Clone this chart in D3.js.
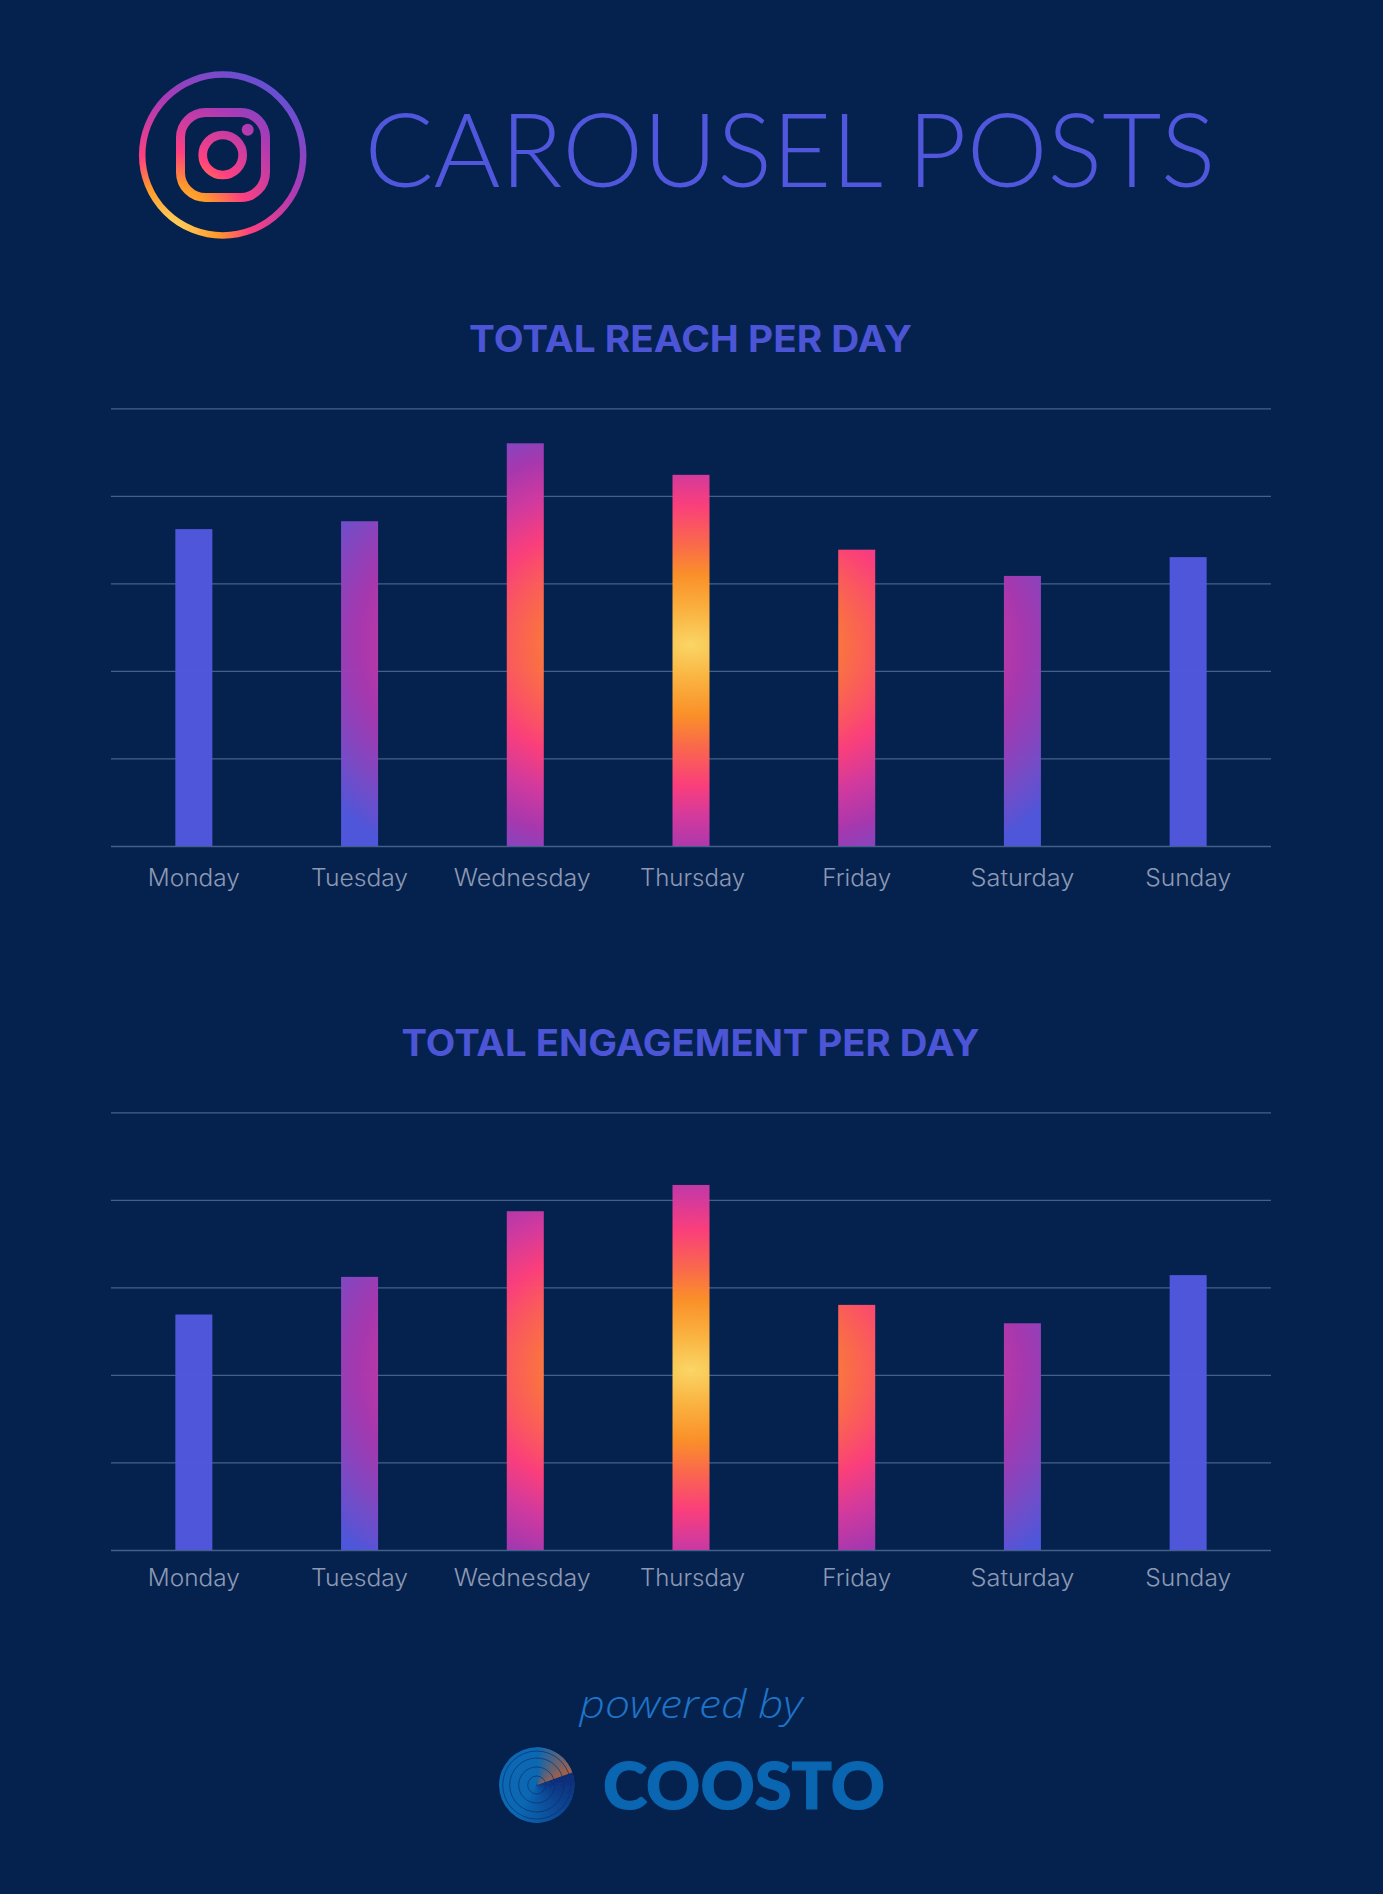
<!DOCTYPE html>
<html>
<head>
<meta charset="utf-8">
<script src="https://cdn.jsdelivr.net/npm/d3@7"></script>
<style>
html,body{margin:0;padding:0;background:#05224f;}
svg{display:block;}
</style>
</head>
<body>
<svg id="c" width="1383" height="1894"></svg>
<script>
const days = ["Monday","Tuesday","Wednesday","Thursday","Friday","Saturday","Sunday"];
const reachValues = [36.2,37.1,46.0,42.4,33.85,30.85,33.0];
const engagementValues = [26.9,31.2,38.7,41.7,28.0,25.9,31.4];
const gridTicks = [0,10,20,30,40,50];
const titleText = "CAROUSEL POSTS";
const reachTitle = "TOTAL REACH PER DAY";
const engagementTitle = "TOTAL ENGAGEMENT PER DAY";
const poweredText = "powered by";
const brandText = "COOSTO";

const BG = "#05224f", INDIGO = "#5057dc", HEAD = "#4c55d6";
const labelFit = {Monday:[92,0],Tuesday:[97,0],Wednesday:[137,-3],Thursday:[105,1.5],Friday:[69,0],Saturday:[104,0],Sunday:[86,0]};
const svg = d3.select("#c");
svg.append("rect").attr("width",1383).attr("height",1894).attr("fill",BG);
const defs = svg.append("defs");

const barStops = [[0,"#ffd966"],[.12,"#ffb640"],[.25,"#ff9228"],[.36,"#ff6b4a"],[.5,"#ff3f7c"],[.62,"#d43aa0"],[.74,"#aa38b0"],[.87,"#7a4cc8"],[.98,"#5057dc"],[1,"#5057dc"]];
function barGradient(id, cx, cy){
  const g = defs.append("radialGradient").attr("id",id)
    .attr("gradientUnits","userSpaceOnUse")
    .attr("cx",0).attr("cy",0).attr("r",280)
    .attr("gradientTransform",`translate(${cx},${cy}) scale(1.6,1)`);
  barStops.forEach(s=>g.append("stop").attr("offset",s[0]).attr("stop-color",s[1]));
}

function chart(opts){
  const x = d3.scaleBand().domain(days).range([111,1271]).padding(0);
  const y = d3.scaleLinear().domain([0,50]).range([opts.bottom,opts.top]);
  const g = svg.append("g");
  g.append("text").text(opts.title)
    .attr("x",690.5).attr("y",opts.titleY).attr("text-anchor","middle")
    .attr("font-family","Inter, 'Noto Sans', sans-serif").attr("font-weight",700)
    .attr("font-size",37).attr("fill",HEAD)
    .attr("textLength",opts.titleW).attr("lengthAdjust","spacingAndGlyphs");

  const grid = g.append("g").attr("transform","translate(111,0)")
    .call(d3.axisLeft(y).tickValues(gridTicks).tickSize(-1160).tickFormat(""));
  grid.select(".domain").remove();
  grid.selectAll(".tick line").attr("stroke","#44608a").attr("stroke-width",1.3);

  barGradient(opts.id, x("Thursday")+x.bandwidth()/2, opts.centerY);
  const barW = 37;
  g.selectAll("rect.bar").data(days).join("rect").attr("class","bar")
    .attr("x",d=>x(d)+x.bandwidth()/2-barW/2)
    .attr("width",barW)
    .attr("y",(d,i)=>y(opts.values[i]))
    .attr("height",(d,i)=>y(0)-y(opts.values[i]))
    .attr("fill",`url(#${opts.id})`).attr("fill-opacity",.98);

  const ax = g.append("g").attr("transform",`translate(0,${opts.bottom})`)
    .call(d3.axisBottom(x).tickSize(0).tickPadding(opts.pad));
  ax.select(".domain").remove();
  ax.selectAll(".tick text")
    .attr("font-family","Inter, 'Noto Sans', sans-serif").attr("font-weight",300)
    .attr("font-size",23.5).attr("fill","#8d99b3")
    .attr("dx",d=>labelFit[d][1])
    .attr("textLength",d=>labelFit[d][0]).attr("lengthAdjust","spacingAndGlyphs");
}

chart({id:"g1",title:reachTitle,titleY:352,titleW:443,top:408.3,bottom:846,centerY:645,values:reachValues,pad:23});
chart({id:"g2",title:engagementTitle,titleY:1056,titleW:578,top:1112.3,bottom:1550,centerY:1370,values:engagementValues,pad:19});

// Instagram logo
const ig = defs.append("radialGradient").attr("id","ig").attr("gradientUnits","userSpaceOnUse")
  .attr("cx",170).attr("cy",232).attr("r",190);
[[0,"#ffd966"],[.25,"#ff9a2a"],[.42,"#ff4080"],[.7,"#aa3ab5"],[1,"#5057dc"]]
  .forEach(s=>ig.append("stop").attr("offset",s[0]).attr("stop-color",s[1]));
const logo = svg.append("g").attr("fill","none").attr("stroke","url(#ig)");
logo.append("circle").attr("cx",222.7).attr("cy",155).attr("r",80.5).attr("stroke-width",6.5);
logo.append("rect").attr("x",180.5).attr("y",112.5).attr("width",85).attr("height",85).attr("rx",25).attr("stroke-width",9);
logo.append("circle").attr("cx",222.7).attr("cy",155).attr("r",20).attr("stroke-width",8.7);
svg.append("circle").attr("cx",247.7).attr("cy",129.7).attr("r",6).attr("fill","url(#ig)");

svg.append("text").text(titleText).attr("x",364.5).attr("y",187)
  .attr("font-family","Lato, Inter, sans-serif").attr("font-weight",300)
  .attr("font-size",103).attr("fill",INDIGO)
  .attr("textLength",851).attr("lengthAdjust","spacingAndGlyphs");

// Footer
svg.append("text").text(poweredText).attr("x",691).attr("y",1718).attr("text-anchor","middle")
  .attr("font-family","'Open Sans', Lato, sans-serif").attr("font-style","italic").attr("font-weight",300)
  .attr("font-size",38).attr("fill","#1f74c8")
  .attr("textLength",223).attr("lengthAdjust","spacingAndGlyphs");

const cl = {x:536.7,y:1785,r:37.7};
const coo = svg.append("g").attr("transform",`translate(${cl.x},${cl.y})`);
coo.append("circle").attr("r",cl.r).attr("fill","#0c68b3");
const arc = d3.arc().innerRadius(0).outerRadius(cl.r);
const orange = d3.interpolateRgb("#0c68b3","#b0603f");
const navy = d3.interpolateRgb("#0f2a78","#0c68b3");
const N = 36, A = Math.PI*70/180;
d3.range(N).forEach(i=>{
  const t=i/N;
  coo.append("path").attr("d",arc({startAngle:t*A,endAngle:(t+1/N)*A+.01})).attr("fill",orange(t));
  coo.append("path").attr("d",arc({startAngle:A+t*Math.PI*.8,endAngle:A+(t+1/N)*Math.PI*.8+.01})).attr("fill",navy(t));
});
[9,18,27,34].forEach(r=>coo.append("circle").attr("r",r).attr("fill","none").attr("stroke","#06326e").attr("stroke-width",.7));

svg.append("text").text(brandText).attr("x",603).attr("y",1808.5)
  .attr("font-family","Lato, sans-serif").attr("font-weight",900)
  .attr("font-size",65).attr("fill","#0a66b0").attr("stroke","#0a66b0").attr("stroke-width",1.2)
  .attr("textLength",282).attr("lengthAdjust","spacingAndGlyphs");
</script>
</body>
</html>
